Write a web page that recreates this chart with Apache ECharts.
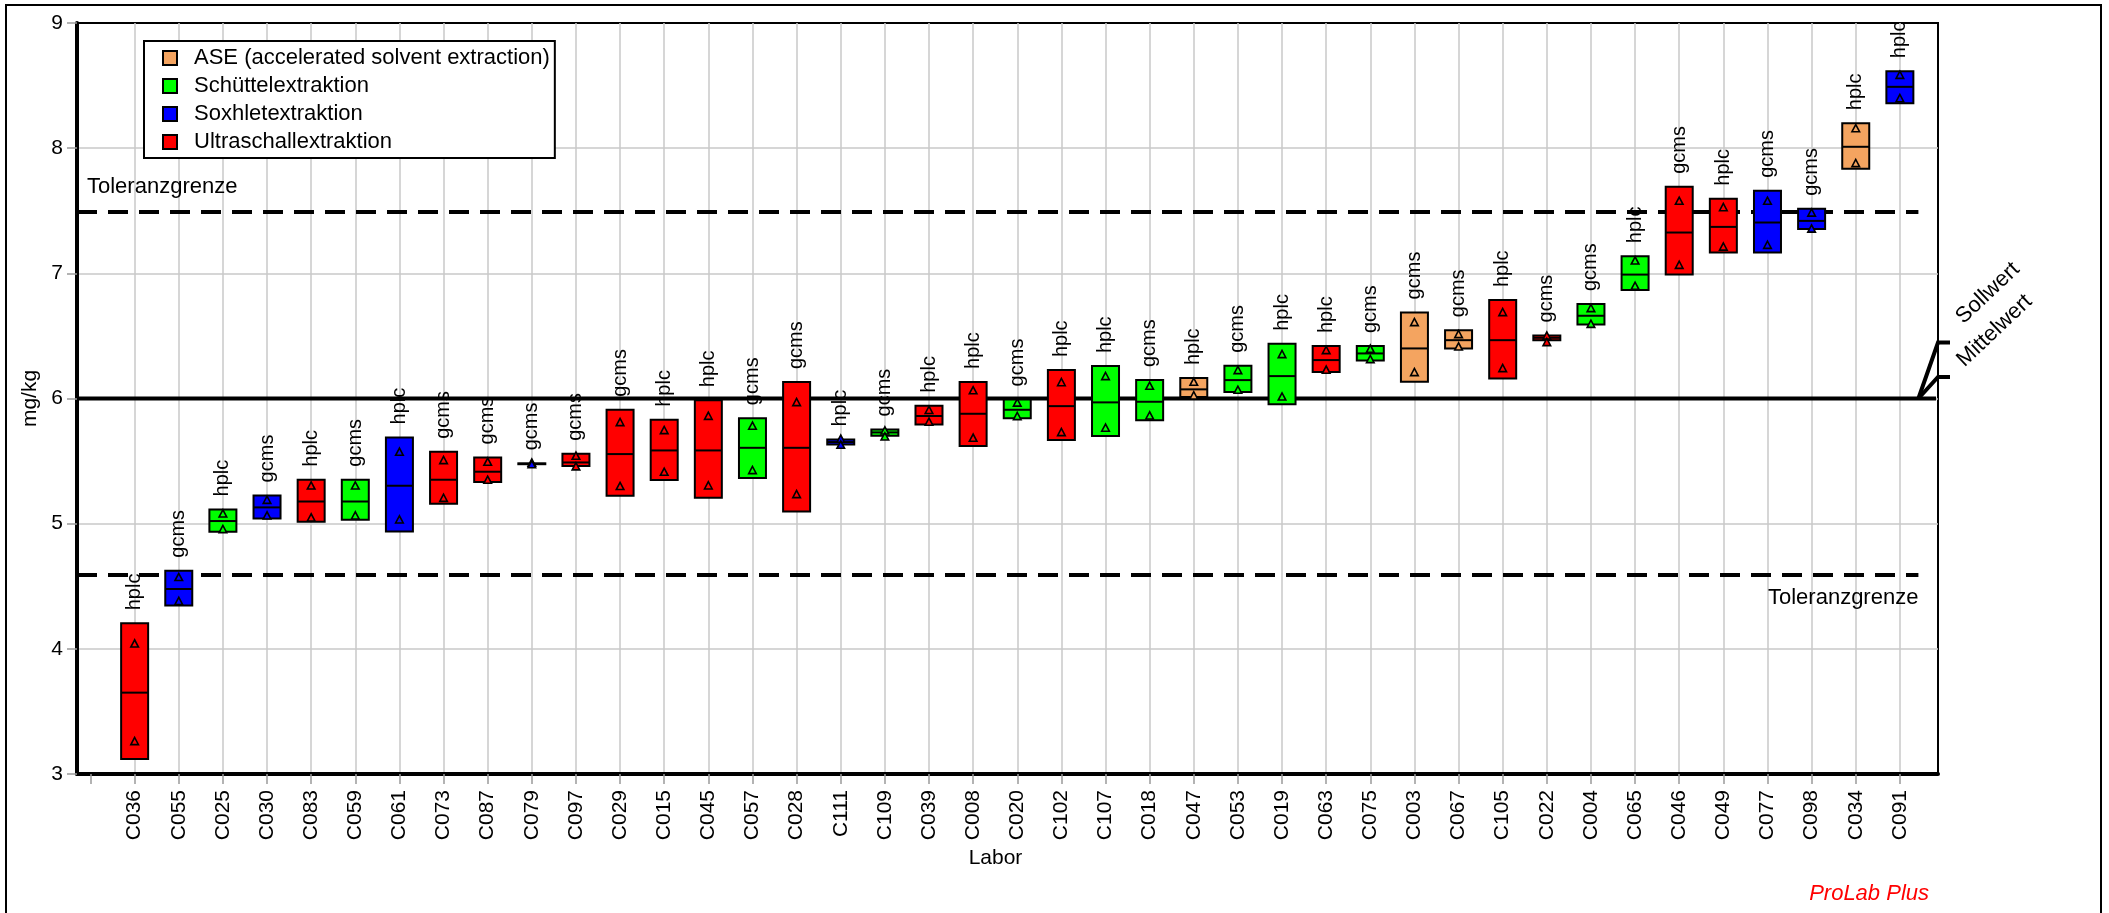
<!DOCTYPE html>
<html>
<head>
<meta charset="utf-8">
<title>ProLab Plus</title>
<script src="https://cdn.jsdelivr.net/npm/echarts@6/dist/echarts.min.js"></script>
<style>
  html, body { margin: 0; padding: 0; background: #fff; }
  #main { width: 2109px; height: 913px; }
</style>
</head>
<body>
<div id="main"></div>
<script>
// Labore, sortiert nach Mittelwert
const labs = ['C036', 'C055', 'C025', 'C030', 'C083', 'C059', 'C061', 'C073', 'C087', 'C079',
  'C097', 'C029', 'C015', 'C045', 'C057', 'C028', 'C111', 'C109', 'C039', 'C008',
  'C020', 'C102', 'C107', 'C018', 'C047', 'C053', 'C019', 'C063', 'C075', 'C003',
  'C067', 'C105', 'C022', 'C004', 'C065', 'C046', 'C049', 'C077', 'C098', 'C034', 'C091'];

const methods = ['ASE (accelerated solvent extraction)', 'Schüttelextraktion', 'Soxhletextraktion', 'Ultraschallextraktion'];
const colors = ['#F4A460', '#00FF00', '#0000FF', '#FF0000'];

// 0 ASE, 1 Schüttel, 2 Soxhlet, 3 Ultraschall
const methodOf = [3, 2, 1, 2, 3, 1, 2, 3, 3, 2,
  3, 3, 3, 3, 1, 3, 2, 1, 3, 3,
  1, 3, 1, 1, 0, 1, 1, 3, 1, 0,
  0, 3, 3, 1, 1, 3, 3, 2, 2, 0, 2];

const tech = ['hplc', 'gcms', 'hplc', 'gcms', 'hplc', 'gcms', 'hplc', 'gcms', 'gcms', 'gcms',
  'gcms', 'gcms', 'hplc', 'hplc', 'gcms', 'gcms', 'hplc', 'gcms', 'hplc', 'hplc',
  'gcms', 'hplc', 'hplc', 'gcms', 'hplc', 'gcms', 'hplc', 'hplc', 'gcms', 'gcms',
  'gcms', 'hplc', 'gcms', 'gcms', 'hplc', 'gcms', 'hplc', 'gcms', 'gcms', 'hplc', 'hplc'];

// Box unten / oben / Mittel, Einzelwerte (Dreiecke)
const boxLo = [3.12, 4.347, 4.935, 5.042, 5.016, 5.031, 4.938, 5.159, 5.332, 5.475,
  5.46, 5.223, 5.348, 5.208, 5.364, 5.098, 5.632, 5.702, 5.793, 5.62,
  5.843, 5.668, 5.70, 5.827, 6.011, 6.051, 5.955, 6.211, 6.304, 6.134,
  6.40, 6.16, 6.466, 6.592, 6.866, 6.99, 7.167, 7.167, 7.355, 7.835, 8.359];
const boxHi = [4.204, 4.624, 5.114, 5.226, 5.351, 5.351, 5.689, 5.574, 5.529, 5.482,
  5.558, 5.91, 5.83, 5.987, 5.843, 6.131, 5.672, 5.753, 5.942, 6.132,
  5.993, 6.227, 6.259, 6.147, 6.163, 6.261, 6.437, 6.419, 6.419, 6.688,
  6.546, 6.786, 6.504, 6.754, 7.137, 7.691, 7.596, 7.659, 7.515, 8.20, 8.615];
const boxMid = [3.65, 4.478, 5.021, 5.13, 5.177, 5.177, 5.303, 5.351, 5.415, 5.478,
  5.489, 5.556, 5.585, 5.585, 5.606, 5.606, 5.652, 5.729, 5.86, 5.878,
  5.91, 5.939, 5.969, 5.974, 6.073, 6.147, 6.179, 6.307, 6.36, 6.40,
  6.466, 6.466, 6.485, 6.661, 6.99, 7.326, 7.371, 7.406, 7.419, 8.011, 8.49];
const valHi = [4.04, 4.571, 5.079, 5.188, 5.302, 5.302, 5.572, 5.505, 5.492, 5.485,
  5.54, 5.809, 5.745, 5.859, 5.78, 5.969, 5.676, 5.742, 5.906, 6.063,
  5.965, 6.128, 6.176, 6.099, 6.131, 6.224, 6.352, 6.384, 6.395, 6.608,
  6.512, 6.688, 6.50, 6.72, 7.10, 7.577, 7.526, 7.577, 7.483, 8.157, 8.583];
const valLo = [3.26, 4.38, 4.954, 5.063, 5.047, 5.063, 5.031, 5.204, 5.348, 5.472,
  5.455, 5.298, 5.412, 5.303, 5.425, 5.234, 5.628, 5.694, 5.812, 5.684,
  5.857, 5.729, 5.764, 5.862, 6.022, 6.067, 6.013, 6.227, 6.312, 6.208,
  6.413, 6.24, 6.448, 6.594, 6.898, 7.065, 7.211, 7.225, 7.355, 7.878, 8.397];

const tolUpper = 7.49;
const tolLower = 4.59;
const sollwert = 6.0;

// x-Achse: Positionen 1..41, Tick auch bei 0
const xMin = -0.306, xMax = 41.864, lineEnd = 41.42, meanEnd = 41.82;
const labelPos = labs.map((_, i) => i + 1);
const tickPos = [0].concat(labelPos);

const FONT = '"Liberation Sans", Arial, Helvetica, sans-serif';
const BOX_W = 27;

function makeRender(m) {
  return function (params, api) {
    const x = api.value(0);
    const lo = api.coord([x, api.value(1)]);
    const hi = api.coord([x, api.value(2)]);
    const md = api.coord([x, api.value(3)]);
    const t1 = api.coord([x, api.value(4)]);
    const t2 = api.coord([x, api.value(5)]);
    const idx = api.value(6);
    const c = colors[m];
    const cx = lo[0];
    const tri = p => ({
      type: 'polygon',
      shape: { points: [[p[0], p[1] - 4], [p[0] - 3.8, p[1] + 3.2], [p[0] + 3.8, p[1] + 3.2]] },
      style: { fill: c, stroke: '#000', lineWidth: 1.6 }
    });
    return {
      type: 'group',
      children: [
        {
          type: 'rect',
          shape: { x: cx - BOX_W / 2, y: hi[1], width: BOX_W, height: Math.max(lo[1] - hi[1], 0.5) },
          style: { fill: c, stroke: '#000', lineWidth: 2 }
        },
        {
          type: 'line',
          shape: { x1: cx - BOX_W / 2, y1: md[1], x2: cx + BOX_W / 2, y2: md[1] },
          style: { stroke: '#000', lineWidth: 2 }
        },
        tri(t1),
        tri(t2),
        {
          type: 'text',
          x: cx,
          y: hi[1] - 13,
          rotation: Math.PI / 2,
          style: {
            text: tech[idx], fill: '#000', font: '20px ' + FONT,
            textAlign: 'left', textVerticalAlign: 'middle'
          }
        }
      ]
    };
  };
}

const boxSeries = methods.map((name, m) => ({
  name: name,
  type: 'custom',
  z: 5,
  silent: true,
  itemStyle: { color: colors[m], borderColor: '#000', borderWidth: 2 },
  encode: { x: 0, y: [1, 2] },
  renderItem: makeRender(m),
  data: labs.map((_, i) => i)
    .filter(i => methodOf[i] === m)
    .map(i => [i + 1, boxLo[i], boxHi[i], boxMid[i], valHi[i], valLo[i], i])
}));

const refSeries = [
  {
    name: 'Toleranzgrenze oben', type: 'line', z: 2, silent: true, symbol: 'none',
    lineStyle: { color: '#000', width: 4, type: [20, 11] },
    data: [[xMin, tolUpper], [lineEnd, tolUpper]]
  },
  {
    name: 'Toleranzgrenze unten', type: 'line', z: 2, silent: true, symbol: 'none',
    lineStyle: { color: '#000', width: 4, type: [20, 11] },
    data: [[xMin, tolLower], [lineEnd, tolLower]]
  },
  {
    name: 'Sollwert', type: 'line', z: 2, silent: true, symbol: 'none',
    lineStyle: { color: '#000', width: 4 },
    data: [[xMin, sollwert], [meanEnd, sollwert]]
  }
];

let option = {
  animation: false,
  backgroundColor: '#fff',
  textStyle: { fontFamily: FONT },
  grid: {
    left: 77, right: 171, top: 23, bottom: 139,
    show: true, borderColor: '#000', borderWidth: 2, backgroundColor: 'transparent'
  },
  legend: {
    data: methods,
    orient: 'vertical',
    left: 144,
    top: 41,
    padding: [6, 5, 5, 18],
    itemGap: 6,
    itemWidth: 14,
    itemHeight: 14,
    icon: 'rect',
    selectedMode: false,
    borderColor: '#000',
    borderWidth: 2,
    backgroundColor: '#fff',
    itemStyle: { borderColor: '#000', borderWidth: 2 },
    textStyle: { fontSize: 22, color: '#000', padding: [0, 0, 0, 12] }
  },
  xAxis: {
    type: 'value',
    min: xMin,
    max: xMax,
    name: 'Labor',
    nameLocation: 'middle',
    nameGap: 70,
    nameTextStyle: { fontSize: 21, color: '#000', padding: [0, 24, 0, 0] },
    axisLine: { onZero: false, lineStyle: { color: '#000', width: 4 } },
    axisTick: { customValues: tickPos, length: 10, lineStyle: { color: '#9a9a9a', width: 1.5 } },
    axisLabel: {
      customValues: labelPos, rotate: 90, margin: 16, fontSize: 21, color: '#000',
      formatter: v => labs[Math.round(v) - 1] || ''
    },
    splitLine: {
      show: true,
      lineStyle: { color: tickPos.map(v => (v === 0 ? 'rgba(0,0,0,0)' : '#c8c8c8')), width: 1.5 }
    }
  },
  yAxis: {
    type: 'value',
    min: 3,
    max: 9,
    interval: 1,
    name: 'mg/kg',
    nameLocation: 'middle',
    nameGap: 36,
    nameTextStyle: { fontSize: 21, color: '#000' },
    axisLine: { show: true, onZero: false, lineStyle: { color: '#000', width: 4 } },
    axisTick: { show: true, length: 10, lineStyle: { color: '#9a9a9a', width: 1.5 } },
    axisLabel: { fontSize: 21, color: '#000', margin: 14 },
    splitLine: {
      show: true, showMinLine: false, showMaxLine: false,
      lineStyle: { color: '#c8c8c8', width: 1.5 }
    }
  },
  series: refSeries.concat(boxSeries)
};

let myChart = echarts.init(document.getElementById('main'), null, { renderer: 'canvas' });
myChart.setOption(option);

// Beschriftungen außerhalb der Achsen
const px = (x, y) => myChart.convertToPixel({ gridIndex: 0 }, [x, y]);
const start = px(lineEnd, sollwert);
const rightX = px(xMax, sollwert)[0];
const upY = px(xMin, tolUpper);
const loY = px(lineEnd, tolLower);
const rot = 43.4 * Math.PI / 180;

myChart.setOption({
  graphic: [
    {
      type: 'rect', silent: true, z: 0,
      shape: { x: 6, y: 5, width: 2095, height: 930 },
      style: { fill: 'none', stroke: '#000', lineWidth: 2 }
    },
    {
      type: 'polyline', silent: true, z: 10,
      shape: { points: [start, [rightX, start[1] - 56], [rightX + 12, start[1] - 56]] },
      style: { stroke: '#000', lineWidth: 4, fill: null }
    },
    {
      type: 'polyline', silent: true, z: 10,
      shape: { points: [start, [rightX, start[1] - 21.5], [rightX + 12, start[1] - 21.5]] },
      style: { stroke: '#000', lineWidth: 4, fill: null }
    },
    {
      type: 'text', silent: true, z: 10, x: 1967, y: 328, rotation: rot,
      style: { text: 'Sollwert', font: '22px ' + FONT, fill: '#000', textAlign: 'left', textVerticalAlign: 'bottom' }
    },
    {
      type: 'text', silent: true, z: 10, x: 1968, y: 371, rotation: rot,
      style: { text: 'Mittelwert', font: '22px ' + FONT, fill: '#000', textAlign: 'left', textVerticalAlign: 'bottom' }
    },
    {
      type: 'text', silent: true, z: 10, x: upY[0] + 10, y: upY[1] - 14,
      style: { text: 'Toleranzgrenze', font: '22px ' + FONT, fill: '#000', textAlign: 'left', textVerticalAlign: 'bottom' }
    },
    {
      type: 'text', silent: true, z: 10, x: loY[0], y: loY[1] + 12,
      style: { text: 'Toleranzgrenze', font: '22px ' + FONT, fill: '#000', textAlign: 'right', textVerticalAlign: 'top' }
    },
    {
      type: 'text', silent: true, z: 10, x: 1929, y: 905,
      style: { text: 'ProLab Plus', font: 'italic 22px ' + FONT, fill: '#FF0000', textAlign: 'right', textVerticalAlign: 'bottom' }
    }
  ]
});
</script>
</body>
</html>
